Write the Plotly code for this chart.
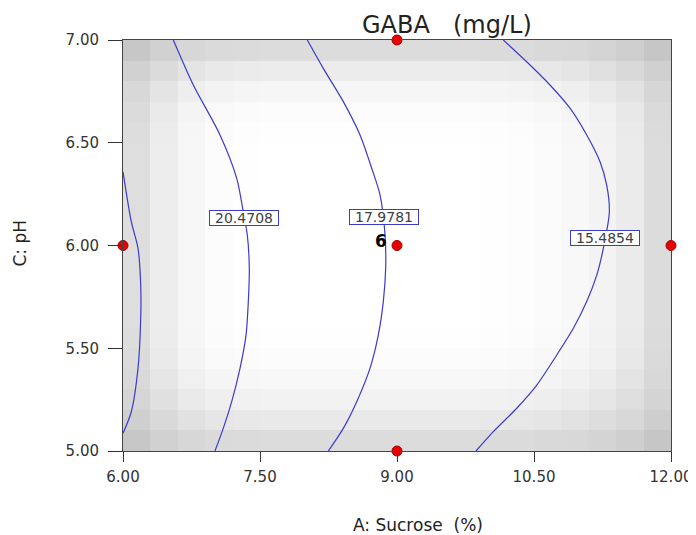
import plotly.graph_objects as go

# ---------------- data ----------------
# design points
pts_x = [9.0, 6.0, 9.0, 12.0, 9.0]
pts_y = [7.0, 6.0, 6.0, 6.0, 5.0]

# contour lines (A: Sucrose, C: pH)
line1_x = [6.000, 6.091, 6.164, 6.194, 6.194, 6.164, 6.091, 6.000]
line1_y = [6.359, 6.116, 5.987, 5.808, 5.646, 5.402, 5.191, 5.086]

line2_x = [6.551, 6.770, 7.062, 7.245, 7.317, 7.361, 7.383, 7.372, 7.347, 7.281, 7.190, 7.098, 7.007]
line2_y = [7.000, 6.781, 6.538, 6.327, 6.164, 6.051, 5.889, 5.727, 5.564, 5.402, 5.240, 5.110, 5.000]

line3_x = [8.018, 8.193, 8.412, 8.595, 8.723, 8.814, 8.869, 8.876, 8.850, 8.795, 8.704, 8.559, 8.412, 8.248]
line3_y = [7.000, 6.862, 6.700, 6.538, 6.376, 6.246, 6.051, 5.889, 5.727, 5.564, 5.402, 5.240, 5.110, 5.000]

line4_x = [10.164, 10.420, 10.675, 10.894, 11.077, 11.223, 11.296, 11.325, 11.259, 11.187,
           11.077, 10.931, 10.749, 10.530, 10.311, 10.055, 9.865]
line4_y = [7.000, 6.894, 6.781, 6.668, 6.538, 6.408, 6.294, 6.164, 5.986, 5.856,
           5.727, 5.597, 5.467, 5.321, 5.208, 5.094, 5.000]

label_text = ["20.4708", "17.9781", "15.4854"]
label_x = [7.325, 8.863, 11.272]
label_y = [6.136, 6.139, 6.036]

# background shading (darkness) per column (A) and per row (C), 20 x 20 grid
col_shade = [33, 18, 8, 3, 1, 0, 0, 0, 0, 0, 0, 0, 0, 1, 2, 4, 7, 12, 20, 35]
row_shade = [35, 22, 13, 7, 3, 1, 0, 0, 0, 0, 0, 0, 0, 0, 0, 1, 3, 9, 19, 35]

x_ticks = [6.0, 7.5, 9.0, 10.5, 12.0]
y_ticks = [5.0, 5.5, 6.0, 6.5, 7.0]

# ---------------- figure ----------------
nx, ny = len(col_shade), len(row_shade)
cell_x = [6 + (j + 0.5) * 6.0 / nx for j in range(nx)]
cell_y = [5 + (i + 0.5) * 2.0 / ny for i in range(ny)]
z = [[r + c for c in col_shade] for r in row_shade]

fig = go.Figure()
fig.add_trace(go.Heatmap(
    x=cell_x, y=cell_y, z=z, zmin=0, zmax=70, zsmooth=False,
    colorscale=[[0, "rgb(255,255,255)"], [0.5, "rgb(220,220,220)"], [1, "rgb(198,198,198)"]],
    showscale=False, hoverinfo="skip"))

LINE_COLOR = "#3b3bcc"
for lx, ly in [(line1_x, line1_y), (line2_x, line2_y), (line3_x, line3_y), (line4_x, line4_y)]:
    fig.add_trace(go.Scatter(x=lx, y=ly, mode="lines",
                             line=dict(color=LINE_COLOR, width=1.2, shape="spline", smoothing=0.8),
                             showlegend=False, hoverinfo="skip"))

fig.add_trace(go.Scatter(x=pts_x, y=pts_y, mode="markers",
                         marker=dict(size=10, color="#e60000", line=dict(color="#a00000", width=1)),
                         cliponaxis=False, showlegend=False))

annotations = []
for t, x, y in zip(label_text, label_x, label_y):
    annotations.append(dict(x=x, y=y, xref="x", yref="y", text=t, showarrow=False,
                            font=dict(family="DejaVu Sans", size=14, color="#404040"),
                            bgcolor="white", bordercolor="#3b3bcc", borderwidth=1,
                            borderpad=0, width=68, height=14))
annotations.append(dict(x=8.83, y=6.024, xref="x", yref="y", text="<b>6</b>", showarrow=False,
                        font=dict(family="DejaVu Sans", size=17, color="black")))

FONT = "DejaVu Sans"
annotations += [
    dict(x=0.498, y=1.0365, xref="paper", yref="paper", text="GABA", showarrow=False,
         font=dict(family=FONT, size=24, color="#222"), xanchor="center", yanchor="middle"),
    dict(x=0.675, y=1.0365, xref="paper", yref="paper", text="(mg/L)", showarrow=False,
         font=dict(family=FONT, size=24, color="#222"), xanchor="center", yanchor="middle"),
    dict(x=0.538, y=-0.181, xref="paper", yref="paper", text="A: Sucrose\u00a0\u00a0(%)",
         showarrow=False, font=dict(family=FONT, size=17, color="#222"),
         xanchor="center", yanchor="middle"),
    dict(x=-0.187, y=0.506, xref="paper", yref="paper", text="C: pH", textangle=-90,
         showarrow=False, font=dict(family=FONT, size=17, color="#222"),
         xanchor="center", yanchor="middle"),
]

# the page body adds an 8px offset, so the figure is sized to fit the window
fig.update_layout(
    width=688, height=527,
    margin=dict(l=115, r=25, t=32, b=84),
    paper_bgcolor="white", plot_bgcolor="white",
    showlegend=False,
    annotations=annotations,
    xaxis=dict(range=[6, 12], tickvals=x_ticks, ticktext=[f"{v:.2f}" for v in x_ticks],
               ticks="outside", ticklen=10, tickcolor="#333", tickwidth=1,
               showline=True, mirror=True, linecolor="#444", linewidth=1,
               showgrid=False, zeroline=False, ticklabelstandoff=2, automargin=False,
               tickfont=dict(family=FONT, size=15, color="#333")),
    yaxis=dict(range=[5, 7], tickvals=y_ticks, ticktext=[f"{v:.2f}" for v in y_ticks],
               ticks="outside", ticklen=14, tickcolor="#333", tickwidth=1,
               showline=True, mirror=True, linecolor="#444", linewidth=1,
               showgrid=False, zeroline=False, ticklabelstandoff=6, automargin=False,
               tickfont=dict(family=FONT, size=15, color="#333")),
)

fig.write_html("out.html")
